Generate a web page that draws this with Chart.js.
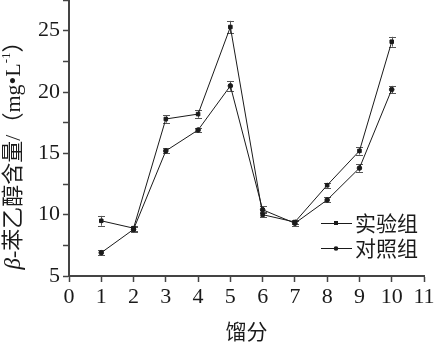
<!DOCTYPE html>
<html><head><meta charset="utf-8">
<script src="https://cdn.jsdelivr.net/npm/chart.js@4"></script>
<style>html,body{margin:0;padding:0;background:#fff}#wrap{width:434px;height:344px}</style>
</head><body><div id="wrap"><canvas id="c" width="434" height="344"></canvas></div>
<script>
const fractions=[1,2,3,4,5,6,7,8,9,10];
const experimentValues=[9.5,8.9,17.8,18.2,25.3,10.0,9.4,12.4,15.2,24.1];
const experimentErrors=[0.4,0.2,0.3,0.3,0.5,0.2,0.2,0.2,0.3,0.4];
const controlValues=[6.9,8.8,15.2,16.9,20.5,10.4,9.3,11.2,13.8,20.2];
const controlErrors=[0.2,0.2,0.2,0.2,0.4,0.3,0.2,0.2,0.3,0.3];
const seriesNames=['实验组','对照组'];
const xTitle='馏分';
const yTitleParts=['β','-苯乙醇含量/（mg•L','-1','）'];

const SERIF="'Liberation Serif', 'Noto Sans CJK SC', serif";
const CJK="'Noto Sans CJK SC', sans-serif";
const INK='#1a1a1a';

const errorPlugin={id:'errs',beforeDatasetsDraw(chart){
  const ctx=chart.ctx,x=chart.scales.x,y=chart.scales.y;
  const sets=[[experimentValues,experimentErrors],[controlValues,controlErrors]];
  ctx.save();ctx.strokeStyle='#555';ctx.lineWidth=1;
  sets.forEach(([v,e])=>{
    fractions.forEach((f,i)=>{
      const px=Math.round(x.getPixelForValue(f))+0.5;
      const t=y.getPixelForValue(v[i]+e[i]),b=y.getPixelForValue(v[i]-e[i]);
      ctx.beginPath();
      ctx.moveTo(px,t);ctx.lineTo(px,b);
      ctx.moveTo(px-3.5,Math.round(t)+0.5);ctx.lineTo(px+3.5,Math.round(t)+0.5);
      ctx.moveTo(px-3.5,Math.round(b)+0.5);ctx.lineTo(px+3.5,Math.round(b)+0.5);
      ctx.stroke();
    });
  });
  ctx.restore();
}};

const decorPlugin={id:'decor',afterDraw(chart){
  const ctx=chart.ctx;
  ctx.save();
  const items=[{n:seriesNames[0],s:'rect',y:223},{n:seriesNames[1],s:'circle',y:248}];
  items.forEach(it=>{
    ctx.strokeStyle=INK;ctx.lineWidth=1;
    ctx.beginPath();ctx.moveTo(321,it.y+0.5);ctx.lineTo(352,it.y+0.5);ctx.stroke();
    ctx.fillStyle=INK;
    if(it.s==='rect'){ctx.fillRect(334,it.y-2,4,4);}
    else{ctx.beginPath();ctx.arc(336,it.y+0.5,2.3,0,Math.PI*2);ctx.fill();}
    ctx.font='21px '+CJK;ctx.textBaseline='middle';ctx.textAlign='left';
    ctx.fillText(it.n,355,it.y);
  });
  ctx.font='21px '+CJK;ctx.textAlign='center';ctx.textBaseline='middle';
  ctx.fillText(xTitle,(chart.scales.x.getPixelForValue(0)+chart.scales.x.getPixelForValue(11))/2,331);
  ctx.translate(14,150);ctx.rotate(-Math.PI/2);
  const fonts=['italic 23px '+SERIF,'22px '+SERIF,'13px '+SERIF,'22px '+SERIF];
  const dy=[0,0,-7,0];
  let total=0;
  yTitleParts.forEach((p,i)=>{ctx.font=fonts[i];total+=ctx.measureText(p).width;});
  let cx=-total/2;
  ctx.textAlign='left';ctx.textBaseline='middle';
  yTitleParts.forEach((p,i)=>{ctx.font=fonts[i];ctx.fillText(p,cx,dy[i]);cx+=ctx.measureText(p).width;});
  ctx.restore();
}};

new Chart(document.getElementById('c'),{
  type:'line',
  data:{datasets:[
    {label:seriesNames[0],data:fractions.map((f,i)=>({x:f,y:experimentValues[i]})),borderColor:INK,backgroundColor:INK,borderWidth:1,pointStyle:'rect',pointRadius:2.5,tension:0},
    {label:seriesNames[1],data:fractions.map((f,i)=>({x:f,y:controlValues[i]})),borderColor:INK,backgroundColor:INK,borderWidth:1,pointStyle:'circle',pointRadius:2.3,tension:0}
  ]},
  options:{
    responsive:false,animation:false,devicePixelRatio:1,
    layout:{autoPadding:false,padding:{left:0,right:10,top:0,bottom:0}},
    plugins:{legend:{display:false},tooltip:{enabled:false}},
    scales:{
      x:{type:'linear',min:0,max:11,
        ticks:{stepSize:1,font:{family:SERIF,size:22},color:INK,padding:2,maxRotation:0,autoSkip:false},
        grid:{drawOnChartArea:false,tickLength:6,color:'#444',tickWidth:1.5},
        border:{color:'#444',width:2},
        afterFit(s){s.height=68;s.paddingLeft=0;s.paddingRight=0;}
      },
      y:{min:5,max:27.5,
        ticks:{stepSize:2.5,font:{family:SERIF,size:22},color:INK,padding:3,callback:v=>(v%5===0?v:'')},
        grid:{drawOnChartArea:false,tickLength:6,color:'#444',tickWidth:1.5},
        border:{color:'#444',width:2},
        afterFit(s){s.width=69;s.paddingTop=0;s.paddingBottom=0;}
      }
    }
  },
  plugins:[errorPlugin,decorPlugin]
});
</script></body></html>
